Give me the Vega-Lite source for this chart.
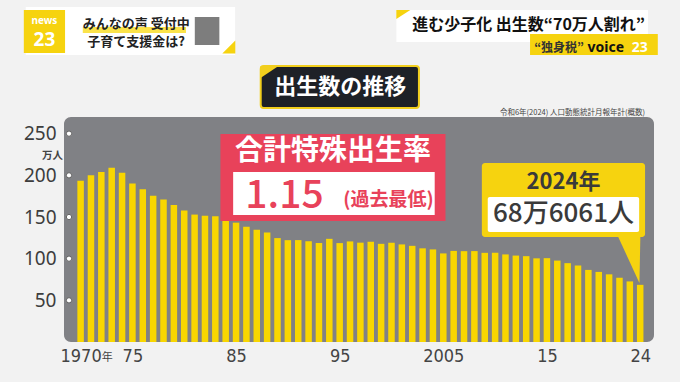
{
  "$schema": "https://vega.github.io/schema/vega-lite/v6.json",
  "width": 590,
  "height": 225,
  "autosize": {"type": "none"},
  "padding": {"left": 64, "top": 117, "right": 26, "bottom": 40},
  "background": "#f2f2f2",
  "config": {
    "font": "Noto Sans CJK JP",
    "view": {"fill": "#808185", "stroke": null, "cornerRadius": 7}
  },
  "layer": [
    {
      "data": {"values": [
        {"year": 1970, "births": 193.4}, {"year": 1971, "births": 200.1}, {"year": 1972, "births": 203.9},
        {"year": 1973, "births": 209.2}, {"year": 1974, "births": 203.0}, {"year": 1975, "births": 190.1},
        {"year": 1976, "births": 183.3}, {"year": 1977, "births": 175.5}, {"year": 1978, "births": 170.9},
        {"year": 1979, "births": 164.3}, {"year": 1980, "births": 157.7}, {"year": 1981, "births": 152.9},
        {"year": 1982, "births": 151.5}, {"year": 1983, "births": 150.9}, {"year": 1984, "births": 149.0},
        {"year": 1985, "births": 143.2}, {"year": 1986, "births": 138.3}, {"year": 1987, "births": 134.7},
        {"year": 1988, "births": 131.4}, {"year": 1989, "births": 124.7}, {"year": 1990, "births": 122.2},
        {"year": 1991, "births": 122.3}, {"year": 1992, "births": 120.9}, {"year": 1993, "births": 118.8},
        {"year": 1994, "births": 123.8}, {"year": 1995, "births": 118.7}, {"year": 1996, "births": 120.7},
        {"year": 1997, "births": 119.2}, {"year": 1998, "births": 120.3}, {"year": 1999, "births": 117.8},
        {"year": 2000, "births": 119.1}, {"year": 2001, "births": 117.1}, {"year": 2002, "births": 115.4},
        {"year": 2003, "births": 112.4}, {"year": 2004, "births": 111.1}, {"year": 2005, "births": 106.3},
        {"year": 2006, "births": 109.3}, {"year": 2007, "births": 109.0}, {"year": 2008, "births": 109.1},
        {"year": 2009, "births": 107.0}, {"year": 2010, "births": 107.1}, {"year": 2011, "births": 105.1},
        {"year": 2012, "births": 103.7}, {"year": 2013, "births": 103.0}, {"year": 2014, "births": 100.4},
        {"year": 2015, "births": 100.6}, {"year": 2016, "births": 97.7}, {"year": 2017, "births": 94.6},
        {"year": 2018, "births": 91.8}, {"year": 2019, "births": 86.5}, {"year": 2020, "births": 84.1},
        {"year": 2021, "births": 81.2}, {"year": 2022, "births": 77.1}, {"year": 2023, "births": 72.7},
        {"year": 2024, "births": 68.6}
      ]},
      "mark": {"type": "bar", "size": 6.5, "color": "#f8d600", "clip": false},
      "encoding": {
        "x": {
          "field": "year", "type": "quantitative",
          "scale": {"domain": [1968.88, 2024.85], "nice": false, "zero": false},
          "axis": {
            "values": [1970, 1975, 1985, 1995, 2005, 2015, 2024],
            "labelExpr": "datum.value == 1970 || datum.value == 2005 ? '' + datum.value : slice('' + datum.value, 2)",
            "domain": false, "ticks": false, "grid": false, "title": null,
            "labelFont": "DejaVu Sans Condensed, Noto Sans",
            "labelFontSize": 18, "labelColor": "#444444", "labelPadding": 5,
            "labelFlush": false, "labelOverlap": false
          }
        },
        "y": {
          "field": "births", "type": "quantitative",
          "scale": {"domain": [0, 270], "nice": false, "zero": true},
          "axis": {
            "values": [50, 100, 150, 200, 250],
            "domain": false, "ticks": false, "grid": false, "title": null,
            "labelFont": "Noto Sans", "labelFontSize": 19, "labelColor": "#3d3d3d",
            "labelPadding": 8
          }
        }
      }
    },
    {
      "data": {"values": [{"v": 50}, {"v": 100}, {"v": 150}, {"v": 200}, {"v": 250}]},
      "mark": {"type": "point", "filled": true, "color": "#ffffff", "stroke": "#666666", "strokeWidth": 1, "size": 28, "opacity": 1, "clip": false},
      "encoding": {"x": {"datum": 1968.88, "type": "quantitative"}, "y": {"field": "v", "type": "quantitative"}}
    },
    {
      "data": {"values": [{}]},
      "mark": {"type": "text", "text": "万人", "fontSize": 10.5, "fontWeight": 600, "color": "#444444", "align": "right", "baseline": "middle", "clip": false},
      "encoding": {"x": {"datum": 1968.31, "type": "quantitative"}, "y": {"datum": 223.5, "type": "quantitative"}}
    },
    {
      "data": {"values": [{}]},
      "mark": {"type": "text", "text": "年", "fontSize": 11, "color": "#444444", "align": "left", "baseline": "alphabetic", "clip": false},
      "encoding": {"x": {"datum": 1972.05, "type": "quantitative"}, "y": {"datum": -23, "type": "quantitative"}}
    },
    {
      "data": {"values": [{}]},
      "mark": {"type": "rect", "fill": "#1e2127", "stroke": "#f2cf1d", "strokeWidth": 2, "cornerRadius": 3, "clip": false},
      "encoding": {"x": {"datum": 1987.38, "type": "quantitative"}, "x2": {"datum": 2002.65}, "y": {"datum": 331.2, "type": "quantitative"}, "y2": {"datum": 280.8}}
    },
    {
      "data": {"values": [{}]},
      "mark": {"type": "point", "filled": true, "shape": "M-1,-1L1,-1L-1,0.33Z", "size": 324, "color": "#f2cf1d", "opacity": 1, "clip": false},
      "encoding": {"x": {"datum": 1988.23, "type": "quantitative"}, "y": {"datum": 320.4, "type": "quantitative"}}
    },
    {
      "data": {"values": [{}]},
      "mark": {"type": "text", "text": "出生数の推移", "fontSize": 22, "fontWeight": "bold", "color": "#ffffff", "align": "center", "baseline": "middle", "clip": false},
      "encoding": {"x": {"datum": 1995.06, "type": "quantitative"}, "y": {"datum": 306, "type": "quantitative"}}
    },
    {
      "data": {"values": [{}]},
      "mark": {"type": "rect", "fill": "#e8425a", "clip": false},
      "encoding": {"x": {"datum": 1983.49, "type": "quantitative"}, "x2": {"datum": 2005.21}, "y": {"datum": 249.6, "type": "quantitative"}, "y2": {"datum": 145.2}}
    },
    {
      "data": {"values": [{}]},
      "mark": {"type": "rect", "fill": "#ffffff", "clip": false},
      "encoding": {"x": {"datum": 1984.72, "type": "quantitative"}, "x2": {"datum": 2004.17}, "y": {"datum": 204, "type": "quantitative"}, "y2": {"datum": 152.4}}
    },
    {
      "data": {"values": [{}]},
      "mark": {"type": "text", "text": "合計特殊出生率", "fontSize": 28, "fontWeight": "bold", "color": "#ffffff", "align": "center", "baseline": "middle", "clip": false},
      "encoding": {"x": {"datum": 1994.35, "type": "quantitative"}, "y": {"datum": 227.5, "type": "quantitative"}}
    },
    {
      "data": {"values": [{}]},
      "mark": {"type": "text", "text": "1.15", "fontSize": 39, "fontWeight": 500, "color": "#e8425a", "align": "left", "baseline": "alphabetic", "clip": false},
      "encoding": {"x": {"datum": 1985.9, "type": "quantitative"}, "y": {"datum": 161, "type": "quantitative"}}
    },
    {
      "data": {"values": [{}]},
      "mark": {"type": "text", "text": "(過去最低)", "fontSize": 19, "fontWeight": "bold", "color": "#e8425a", "align": "left", "baseline": "alphabetic", "clip": false},
      "encoding": {"x": {"datum": 1995.35, "type": "quantitative"}, "y": {"datum": 163.2, "type": "quantitative"}}
    },
    {
      "data": {"values": [{}]},
      "mark": {"type": "rect", "fill": "#f6d30f", "cornerRadius": 3, "clip": false},
      "encoding": {"x": {"datum": 2008.72, "type": "quantitative"}, "x2": {"datum": 2024.47}, "y": {"datum": 214.8, "type": "quantitative"}, "y2": {"datum": 126}}
    },
    {
      "data": {"values": [{}]},
      "mark": {"type": "point", "filled": true, "shape": "M-0.48,-1L0.48,-1L0.44,1Z", "size": 2116, "color": "#f6d30f", "opacity": 1, "clip": false},
      "encoding": {"x": {"datum": 2022.95, "type": "quantitative"}, "y": {"datum": 98.4, "type": "quantitative"}}
    },
    {
      "data": {"values": [{}]},
      "mark": {"type": "rect", "fill": "#ffffff", "cornerRadius": 2, "clip": false},
      "encoding": {"x": {"datum": 2009.29, "type": "quantitative"}, "x2": {"datum": 2023.9}, "y": {"datum": 174, "type": "quantitative"}, "y2": {"datum": 132}}
    },
    {
      "data": {"values": [{}]},
      "mark": {"type": "text", "text": "2024年", "fontSize": 22, "fontWeight": 600, "color": "#3a3a3a", "align": "center", "baseline": "middle", "clip": false},
      "encoding": {"x": {"datum": 2016.6, "type": "quantitative"}, "y": {"datum": 192, "type": "quantitative"}}
    },
    {
      "data": {"values": [{}]},
      "mark": {"type": "text", "text": "68万6061人", "fontSize": 26, "fontWeight": 500, "color": "#3a3a3a", "align": "center", "baseline": "middle", "clip": false},
      "encoding": {"x": {"datum": 2016.6, "type": "quantitative"}, "y": {"datum": 153.6, "type": "quantitative"}}
    },
    {
      "data": {"values": [{}]},
      "mark": {"type": "text", "text": "令和6年(2024) 人口動態統計月報年計(概数)", "fontSize": 7.5, "color": "#444444", "align": "right", "baseline": "middle", "clip": false},
      "encoding": {"x": {"datum": 2024.47, "type": "quantitative"}, "y": {"datum": 274.8, "type": "quantitative"}}
    },
    {
      "data": {"values": [{}]},
      "mark": {"type": "rect", "fill": "#ffffff", "clip": false},
      "encoding": {"x": {"datum": 1964.71, "type": "quantitative"}, "x2": {"datum": 1984.91}, "y": {"datum": 402, "type": "quantitative"}, "y2": {"datum": 344.4}}
    },
    {
      "data": {"values": [{}]},
      "mark": {"type": "rect", "fill": "#f6d30f", "clip": false},
      "encoding": {"x": {"datum": 1964.52, "type": "quantitative"}, "x2": {"datum": 1968.5}, "y": {"datum": 398.4, "type": "quantitative"}, "y2": {"datum": 346.8}}
    },
    {
      "data": {"values": [{}]},
      "mark": {"type": "text", "text": "news", "font": "Noto Sans", "fontSize": 10, "fontWeight": "bold", "color": "#ffffff", "align": "center", "baseline": "middle", "clip": false},
      "encoding": {"x": {"datum": 1966.51, "type": "quantitative"}, "y": {"datum": 385, "type": "quantitative"}}
    },
    {
      "data": {"values": [{}]},
      "mark": {"type": "text", "text": "23", "font": "Noto Sans", "fontSize": 19, "fontWeight": "bold", "color": "#ffffff", "align": "center", "baseline": "middle", "clip": false},
      "encoding": {"x": {"datum": 1966.51, "type": "quantitative"}, "y": {"datum": 362, "type": "quantitative"}}
    },
    {
      "data": {"values": [{}]},
      "mark": {"type": "rect", "fill": "#fbe34a", "clip": false},
      "encoding": {"x": {"datum": 1970.21, "type": "quantitative"}, "x2": {"datum": 1980.17}, "y": {"datum": 378, "type": "quantitative"}, "y2": {"datum": 370.8}}
    },
    {
      "data": {"values": [{}]},
      "mark": {"type": "text", "text": "みんなの声 受付中", "fontSize": 13, "fontWeight": "bold", "color": "#222222", "align": "left", "baseline": "middle", "clip": false},
      "encoding": {"x": {"datum": 1970.21, "type": "quantitative"}, "y": {"datum": 381.6, "type": "quantitative"}}
    },
    {
      "data": {"values": [{}]},
      "mark": {"type": "text", "text": "子育て支援金は?", "fontSize": 13, "fontWeight": "bold", "color": "#222222", "align": "right", "baseline": "middle", "clip": false},
      "encoding": {"x": {"datum": 1980.07, "type": "quantitative"}, "y": {"datum": 360, "type": "quantitative"}}
    },
    {
      "data": {"values": [{}]},
      "mark": {"type": "rect", "fill": "#7d7d7d", "clip": false},
      "encoding": {"x": {"datum": 1981.02, "type": "quantitative"}, "x2": {"datum": 1983.39}, "y": {"datum": 390, "type": "quantitative"}, "y2": {"datum": 356.4}}
    },
    {
      "data": {"values": [{}]},
      "mark": {"type": "point", "filled": true, "shape": "M1,-1L1,1L-1,1Z", "size": 169, "color": "#f6d30f", "opacity": 1, "clip": false},
      "encoding": {"x": {"datum": 1984.3, "type": "quantitative"}, "y": {"datum": 354, "type": "quantitative"}}
    },
    {
      "data": {"values": [{}]},
      "mark": {"type": "rect", "fill": "#ffffff", "clip": false},
      "encoding": {"x": {"datum": 2000.47, "type": "quantitative"}, "x2": {"datum": 2024.76}, "y": {"datum": 398.4, "type": "quantitative"}, "y2": {"datum": 360}}
    },
    {
      "data": {"values": [{}]},
      "mark": {"type": "point", "filled": true, "shape": "M-1,-1L1,-1L-1,0.3Z", "size": 196, "color": "#f6d30f", "opacity": 1, "clip": false},
      "encoding": {"x": {"datum": 2001.14, "type": "quantitative"}, "y": {"datum": 390, "type": "quantitative"}}
    },
    {
      "data": {"values": [{}]},
      "mark": {"type": "text", "text": "進む少子化 出生数“70万人割れ”", "fontSize": 16, "fontWeight": "bold", "color": "#111111", "align": "center", "baseline": "middle", "clip": false},
      "encoding": {"x": {"datum": 2013.23, "type": "quantitative"}, "y": {"datum": 380.4, "type": "quantitative"}}
    },
    {
      "data": {"values": [{}]},
      "mark": {"type": "rect", "fill": "#f6d30f", "clip": false},
      "encoding": {"x": {"datum": 2013.37, "type": "quantitative"}, "x2": {"datum": 2025.7}, "y": {"datum": 369.6, "type": "quantitative"}, "y2": {"datum": 344.4}}
    },
    {
      "data": {"values": [{}]},
      "mark": {"type": "text", "text": "“独身税”", "fontSize": 12, "fontWeight": "bold", "color": "#333333", "align": "center", "baseline": "middle", "clip": false},
      "encoding": {"x": {"datum": 2016.17, "type": "quantitative"}, "y": {"datum": 352.8, "type": "quantitative"}}
    },
    {
      "data": {"values": [{}]},
      "mark": {"type": "text", "text": "voice", "font": "Noto Sans", "fontSize": 14, "fontWeight": "bold", "color": "#111111", "align": "center", "baseline": "middle", "clip": false},
      "encoding": {"x": {"datum": 2020.68, "type": "quantitative"}, "y": {"datum": 352.8, "type": "quantitative"}}
    },
    {
      "data": {"values": [{}]},
      "mark": {"type": "text", "text": "23", "font": "Noto Sans", "fontSize": 14, "fontWeight": "bold", "color": "#ffffff", "align": "center", "baseline": "middle", "clip": false},
      "encoding": {"x": {"datum": 2023.95, "type": "quantitative"}, "y": {"datum": 352.8, "type": "quantitative"}}
    }
  ]
}
